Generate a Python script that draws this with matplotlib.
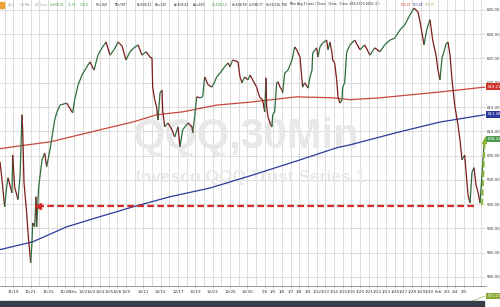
import matplotlib
matplotlib.use("Agg")
import matplotlib.pyplot as plt
from matplotlib.collections import LineCollection
import matplotlib.transforms as mtransforms
import numpy as np

# QQQ 30-min chart, x = 30-min bar index since Nov 17 open (13 bars / day)
bars = [6,9,13,16,18,24,25,28,33,36,39,40,42,46,48,52,54,55,58,60,61,64,69,73,76,81,85,88,91,96,
        106,115,118,123,129,135,141,147,153,159,165,171,177,183,189,195,201,207,213,219,225,231,
        234,235,238,241,243,246,249,250,253,258,264,268,273,276,280,288,294,295,298,301,306,310,
        313,318,324,328,331,336,343,348,351,355,363,366,369,373,378,381,385,391,393,396,400,403,
        405,406,408,411,414,415,418,421,423,426,429,430,433,438,444,448,451,456,459,460,463,468,
        471,474,475,481,483,486,490,496,498,501,504,505,508,511,513,516,519,520,523,526,531,538,
        546,553,561,568,576,583,591,598,606,613,621,627,633,637,642,646,651,655,660,663,666,669,
        672,675,678,681,684,688,693,696,699,703,708,711,714,717,720,723,726,729,732,733]
price = [603.7,600.0,594.4,598.5,600.4,597.3,605.1,598.5,595.9,600.6,613.4,610.3,599.4,593.2,589.1,
         582.9,587.0,591.1,590.3,596.5,590.3,598.5,604.1,605.5,602.7,606.2,609.7,612.3,613.8,615.4,
         615.8,613.8,616.5,619.5,621.6,623.0,624.3,622.6,625.7,627.2,628.4,625.7,626.8,628.4,627.6,
         624.7,626.4,627.2,627.8,625.7,626.4,625.3,625.1,619.1,616.5,615.0,612.3,617.9,618.5,614.4,
         610.9,611.7,610.3,608.8,610.9,606.8,610.3,611.7,610.9,609.7,613.0,617.1,616.9,617.1,621.2,
         619.6,619.1,620.2,621.2,622.0,623.3,624.1,623.3,624.7,624.3,621.2,620.0,621.2,620.6,621.6,
         620.6,619.1,618.1,616.9,616.5,614.0,621.0,615.0,613.0,611.7,610.9,613.4,614.0,620.0,620.2,
         619.1,618.5,617.9,622.0,622.6,624.7,627.4,626.8,625.3,620.6,619.1,620.0,618.9,621.2,622.6,
         626.1,627.2,625.3,627.4,628.2,628.8,626.8,628.4,626.1,624.7,624.1,620.6,617.1,615.8,616.5,
         619.1,620.0,626.3,627.8,628.8,626.8,627.8,625.7,627.2,626.4,627.8,628.8,629.2,630.9,631.9,
         634.0,635.4,634.6,631.9,627.8,630.9,633.0,628.8,625.7,622.6,620.6,625.1,626.4,628.0,628.4,
         625.7,620.6,615.4,611.3,608.2,604.1,605.1,596.9,595.2,601.6,602.5,598.9,597.5,595.2,601.0,
         607.2,608.4]

ma_red_bars = [6,36,81,126,156,205,241,280,331,381,451,505,531,576,621,666,733]
ma_red = [606.4,607.0,607.8,609.3,610.3,611.9,613.4,614.0,615.4,616.0,617.1,616.9,616.5,616.9,617.5,618.1,619.1]
ma_blue_bars = [6,55,106,156,205,261,321,381,456,511,531,606,666,733]
ma_blue = [585.6,587.2,590.3,592.4,594.4,596.5,598.3,600.8,604.1,606.6,607.2,609.9,611.9,613.4]

# day index (from Nov 17) and its axis label
tick_days = [2,4,6,8,9,10,11,12,13,14,15,17,19,21,23,25,27,29,31,32,33,34,35,36,37,38,39,40,41,
             42,43,44,45,46,47,48,49,50,51,52,53,54]
tick_labels = ["11/19","11/21","11/25","11/28","Dec","12/2","12/3","12/4","12/5","12/8","12/9",
               "12/11","12/15","12/17","12/19","12/23","12/26","12/30","'26","1/5","1/6","1/7",
               "1/8","1/9","1/12","1/13","1/14","1/15","1/16","1/20","1/21","1/22","1/23","1/26",
               "1/27","1/28","1/29","1/30","Feb","2/3","2/4","2/5"]
n_days = 57

last_red, last_blue, last_price, last_olive = 619.21, 613.48, 608.41, 571.27
support = 594.6
support_bars = (717, 63)
bounce = ((729, 594.8), (733, 608.2))

fig = plt.figure(figsize=(5, 3.07), dpi=100)
ax = fig.add_axes([0, 21/307, 486/500, 286/307])
ax.set_xlim(6, 735)
ax.set_ylim(578.1, 637.06)

for d in range(n_days):
    ax.axvline(13*d, color="#d6d6d6", lw=0.6, zorder=0)
for p in np.arange(580, 640, 5):
    ax.axhline(p, color="#d6d6d6", lw=0.6, zorder=0)

ax.text(0.505, 0.52, "QQQ,30Min", transform=ax.transAxes, ha="center", va="center",
        fontsize=30, fontweight="bold", family="Liberation Sans", color="#e8e8e8", zorder=1)
ax.text(0.515, 0.38, "Invesco QQQ Trust Series 1", transform=ax.transAxes, ha="center",
        va="center", fontsize=12.5, fontweight="bold", family="Liberation Sans", color="#e8e8e8", zorder=1)

ax.plot(ma_red_bars, ma_red, color="#c8473d", lw=0.9, zorder=3)
ax.plot(ma_blue_bars, ma_blue, color="#2b3a9e", lw=0.9, zorder=3)

pts = np.column_stack([bars, price])
segs = np.stack([pts[:-1], pts[1:]], axis=1)
cols = ["#2f6b3c" if b >= a else "#7e1b1b" for a, b in zip(price[:-1], price[1:])]
ax.add_collection(LineCollection(segs, colors=cols, linewidths=0.9, zorder=4))

ax.plot(support_bars, [support, support], color="#d42a2a", lw=1.6, ls=(0, (3, 1.5)), zorder=5)
ax.plot(support_bars[1], support, marker="<", color="#d42a2a", ms=4.5, zorder=5)
ax.plot([bounce[0][0], bounce[1][0]], [bounce[0][1], bounce[1][1]], color="#8fb43c",
        lw=1.5, ls=(0, (3, 1.5)), zorder=5)
ax.plot(bounce[1][0], bounce[1][1], marker="^", color="#8fb43c", ms=4, zorder=5)

for s in ["top", "left", "right"]:
    ax.spines[s].set_visible(False)
ax.spines["bottom"].set_color("#888888")
ax.spines["bottom"].set_linewidth(0.6)

ax.yaxis.tick_right()
ax.set_yticks(np.arange(580, 640, 5))
ax.set_yticklabels(["%.2f" % v for v in np.arange(580, 640, 5)])
ax.tick_params(axis="y", length=0, pad=0.8, labelsize=2.8, labelcolor="#333333")
ax.set_xticks([13*d for d in tick_days])
ax.set_xticklabels(tick_labels)
ax.tick_params(axis="x", length=1.5, width=0.4, color="#888888", pad=1.5, labelsize=3,
               labelcolor="#333333")

tr = mtransforms.blended_transform_factory(ax.transAxes, ax.transData)
for val, c in [(last_red, "#d0342c"), (last_blue, "#2b3a9e"), (last_price, "#4c9a4c")]:
    ax.text(1.003, val, "%.2f" % val, transform=tr, ha="left", va="center", fontsize=2.8,
            color="white", clip_on=False, zorder=6,
            bbox=dict(boxstyle="square,pad=0.3", fc=c, ec="none"))
ax.text(1.003, -0.035, "%.2f" % last_olive, transform=ax.transAxes, ha="left", va="center",
        fontsize=2.8, color="white", clip_on=False,
        bbox=dict(boxstyle="square,pad=0.3", fc="#8aa83a", ec="none"))
ax.plot([0.945, 0.998], [-0.07, -0.035], transform=ax.transAxes, color="#8aa83a", lw=0.4,
        clip_on=False)

# bottom dark band
fig.patches.append(plt.Rectangle((0, 0), 484/500, 6/307, transform=fig.transFigure,
                                 color="#363c48", zorder=0))

# header line
fig.patches.append(plt.Rectangle((0, 1 - 8/307), 4/500, 6/307, transform=fig.transFigure,
                                 color="#f0a030"))
header = [(8, "QQQ", "#999999"), (20, "30 Min", "#999999"), (35, "All Sess", "#aaaaaa"),
          (50, "L=608.41", "#3a9a3a"), (68, "11.35", "#3a9a3a"), (80, "1.91%", "#3a9a3a"),
          (95, "TS=160", "#222222"), (114, "TE=TSF", "#222222"), (137, "B=608.41", "#222222"),
          (155, "BS=120", "#222222"), (174, "A=608.42", "#222222"), (193, "AS=200", "#222222"),
          (212, "O=600.10", "#3a9a3a"), (232, "H=608.99", "#222222"), (249, "L=598.77", "#222222"),
          (266, "V=62,526,706", "#222222"),
          (290, "Mov Avg 3 Lines ( Close , Close , Close ,650,1300,2600, 0 )", "#222222"),
          (401, "619.21", "#d0342c"), (413, "613.48", "#2b3a9e"), (425, "571.27", "#8aa83a")]
for x, t, c in header:
    fig.text(x/500, 1 - 4.5/307, t, fontsize=2.2, color=c, ha="left", va="center")

fig.savefig("out.png", dpi=100, facecolor="white")
